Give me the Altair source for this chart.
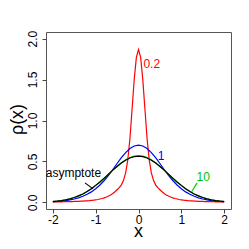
import altair as alt
import numpy as np
import pandas as pd

# x grids
x_fine = np.round(np.arange(-2.0, 2.0001, 0.05), 2)
x_coarse = np.round(np.arange(-2.0, 2.0001, 0.1), 2)

# series values
red_02 = [0.006, 0.0065, 0.007, 0.0075, 0.008, 0.0085, 0.009, 0.0095, 0.010, 0.011,
          0.012, 0.013, 0.014, 0.015, 0.016, 0.018, 0.020, 0.022, 0.025, 0.028,
          0.032, 0.036, 0.042, 0.048, 0.056, 0.066, 0.078, 0.092, 0.11, 0.13,
          0.155, 0.18, 0.215, 0.27, 0.36, 0.52, 0.78, 1.14, 1.50, 1.77,
          1.866,
          1.77, 1.50, 1.14, 0.78, 0.52, 0.36, 0.27, 0.215, 0.18, 0.155,
          0.13, 0.11, 0.092, 0.078, 0.066, 0.056, 0.048, 0.042, 0.036, 0.032,
          0.028, 0.025, 0.022, 0.020, 0.018, 0.016, 0.015, 0.014, 0.013, 0.012,
          0.011, 0.010, 0.0095, 0.009, 0.0085, 0.008, 0.0075, 0.007, 0.0065, 0.006]

blue_1 = [0.010, 0.013, 0.017, 0.023, 0.031, 0.042, 0.056, 0.075, 0.099, 0.129,
          0.167, 0.213, 0.268, 0.330, 0.400, 0.475, 0.547, 0.609, 0.659, 0.689,
          0.700,
          0.689, 0.659, 0.609, 0.547, 0.475, 0.400, 0.330, 0.268, 0.213, 0.167,
          0.129, 0.099, 0.075, 0.056, 0.042, 0.031, 0.023, 0.017, 0.013, 0.010]

green_10 = [0.012, 0.017, 0.024, 0.033, 0.045, 0.060, 0.080, 0.104, 0.133, 0.167,
            0.206, 0.249, 0.296, 0.345, 0.395, 0.442, 0.485, 0.521, 0.549, 0.566,
            0.572,
            0.566, 0.549, 0.521, 0.485, 0.442, 0.395, 0.345, 0.296, 0.249, 0.206,
            0.167, 0.133, 0.104, 0.080, 0.060, 0.045, 0.033, 0.024, 0.017, 0.012]

black_asym = [0.010, 0.015, 0.022, 0.031, 0.044, 0.060, 0.080, 0.104, 0.134, 0.168,
              0.208, 0.250, 0.297, 0.346, 0.394, 0.439, 0.481, 0.516, 0.542, 0.559,
              0.564,
              0.559, 0.542, 0.516, 0.481, 0.439, 0.394, 0.346, 0.297, 0.250, 0.208,
              0.168, 0.134, 0.104, 0.080, 0.060, 0.044, 0.031, 0.022, 0.015, 0.010]

x_ticks = [-2, -1, 0, 1, 2]
y_ticks = [0.0, 0.5, 1.0, 1.5, 2.0]

label_text = ["0.2", "1", "10", "asymptote"]
label_x = [0.31, 0.53, 1.51, -1.52]
label_y = [1.695, 0.568, 0.31, 0.357]
label_color = ["#FF0000", "#0000FF", "#00C800", "#000000"]

lead_x = [-1.25, 1.37]
lead_y = [0.239, 0.239]
lead_x2 = [-1.06, 1.24]
lead_y2 = [0.165, 0.13]
lead_color = ["#000000", "#00C800"]

FONT = "Liberation Sans"
xs = alt.Scale(domain=[-2.16, 2.16], nice=False, zero=False)
ys = alt.Scale(domain=[-0.08, 2.08], nice=False, zero=False)

xaxis = alt.Axis(values=x_ticks, title="x", grid=False, domain=False,
                 tickSize=4, tickColor="#444", labelFontSize=12,
                 labelFont=FONT, labelColor="black", labelBaseline="alphabetic",
                 labelPadding=10,
                 labelExpr="datum.value < 0 ? '-' + abs(datum.value) : '' + datum.value",
                 titleFont=FONT, titleFontSize=18, titleFontWeight="normal",
                 titleColor="black", titleX=92, titleY=27.5,
                 titleBaseline="alphabetic", titleAlign="center")
yaxis = alt.Axis(values=y_ticks, title="ρ(x)", grid=False, domain=False,
                 tickSize=4, tickColor="#444", labelFontSize=12, format=".1f",
                 labelFont=FONT, labelColor="black", labelAngle=270,
                 labelAlign="center", labelBaseline="alphabetic",
                 labelPadding=5.5,
                 titleFont=FONT, titleFontSize=18, titleFontWeight="normal",
                 titleColor="black", titleAngle=270, titleX=-24, titleY=87,
                 titleBaseline="alphabetic", titleAlign="center")


def curve(xv, yv, color):
    df = pd.DataFrame({"x": xv, "y": yv})
    return alt.Chart(df).mark_line(color=color, strokeWidth=1.2).encode(
        x=alt.X("x:Q", scale=xs, axis=xaxis),
        y=alt.Y("y:Q", scale=ys, axis=yaxis),
    )


lines = [
    curve(x_fine, red_02, "#FF0000"),
    curve(x_coarse, blue_1, "#0000FF"),
    curve(x_coarse, green_10, "#00C800"),
    curve(x_coarse, black_asym, "#000000"),
]

lab_df = pd.DataFrame({"t": label_text, "x": label_x, "y": label_y, "c": label_color})
labels = alt.Chart(lab_df).mark_text(font=FONT, fontSize=12, align="center",
                                      baseline="middle").encode(
    x=alt.X("x:Q", scale=xs),
    y=alt.Y("y:Q", scale=ys),
    text="t:N",
    color=alt.Color("c:N", scale=None),
)

lead_df = pd.DataFrame({"x": lead_x, "y": lead_y, "x2": lead_x2, "y2": lead_y2,
                        "c": lead_color})
leaders = alt.Chart(lead_df).mark_rule(strokeWidth=1.1).encode(
    x=alt.X("x:Q", scale=xs),
    y=alt.Y("y:Q", scale=ys),
    x2="x2:Q",
    y2="y2:Q",
    color=alt.Color("c:N", scale=None),
)

chart = alt.layer(*lines, leaders, labels).properties(
    width=185, height=177,
    autosize=alt.AutoSizeParams(type="none"),
    padding={"left": 38, "top": 24, "right": 2, "bottom": 32},
    background="white",
).configure_view(stroke="#555", strokeWidth=1)

chart.save("out.html", embed_options={"renderer": "svg", "actions": False})
